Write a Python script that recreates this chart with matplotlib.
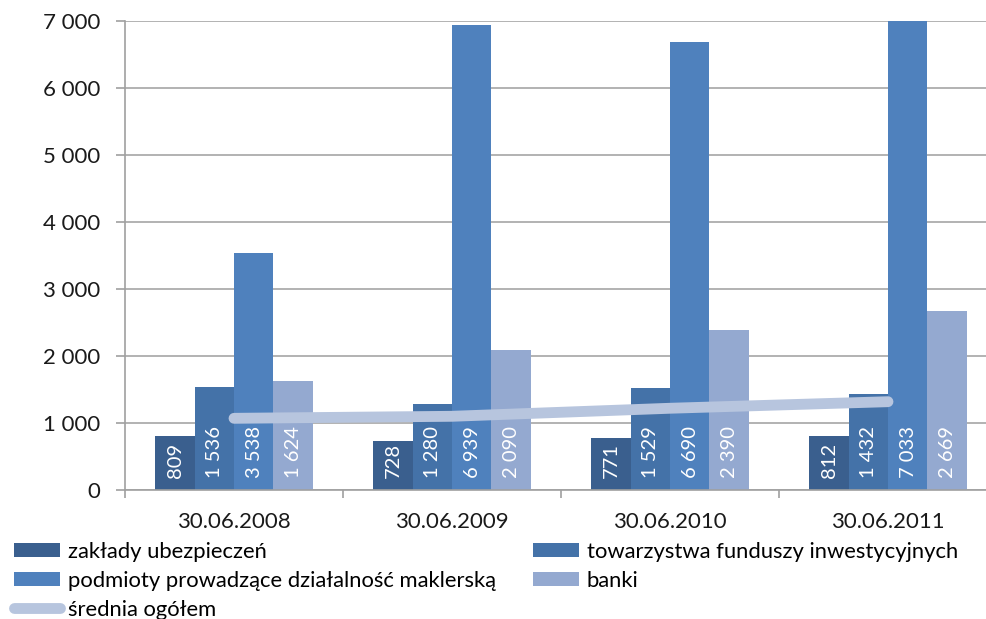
import matplotlib
matplotlib.use("Agg")
import matplotlib.pyplot as plt
import numpy as np
from matplotlib.ticker import FuncFormatter, FixedLocator
from matplotlib.patches import Patch
from matplotlib.lines import Line2D

plt.rcParams['font.family'] = ['Lato', 'DejaVu Sans']

categories = ["30.06.2008", "30.06.2009", "30.06.2010", "30.06.2011"]
series_names = ["zakłady ubezpieczeń", "towarzystwa funduszy inwestycyjnych",
                "podmioty prowadzące działalność maklerską", "banki"]
zaklady = [809, 728, 771, 812]
tfi = [1536, 1280, 1529, 1432]
podmioty = [3538, 6939, 6690, 7033]
banki = [1624, 2090, 2390, 2669]
srednia = [1070, 1100, 1220, 1318]
line_name = "średnia ogółem"

colors = ["#3A5F8E", "#4472A8", "#4F81BD", "#94A9D0"]
line_color = "#B7C5DE"

def fmt(v):
    return f"{int(v):,}".replace(",", " ")

fig = plt.figure(figsize=(9.86, 6.19), dpi=100)
W, H = 986, 619
ax = fig.add_axes([125 / W, (H - 490) / H, 872 / W, 469 / H])

x = np.arange(len(categories))
w = 0.181
series = [zaklady, tfi, podmioty, banki]
for i, (vals, c) in enumerate(zip(series, colors)):
    pos = x + (i - 1.5) * w
    bars = ax.bar(pos, vals, width=w, color=c, zorder=2, linewidth=0)
    for xp, v in zip(pos, vals):
        ax.annotate(fmt(v), (xp, 0), xytext=(0.5, 9), textcoords="offset points",
                    rotation=90, ha="center", va="bottom", color="white",
                    fontsize=14.5, zorder=4)

ax.plot(x, srednia, color=line_color, linewidth=7.8, solid_capstyle="round",
        zorder=3)

ax.set_xlim(-0.5, 3.5)
ax.set_ylim(0, 7000)
ax.set_yticks(np.arange(0, 7001, 1000))
ax.yaxis.set_major_formatter(FuncFormatter(lambda v, p: fmt(v)))
ax.set_xticks(x)
ax.set_xticklabels(categories)
ax.xaxis.set_minor_locator(FixedLocator([-0.5, 0.5, 1.5, 2.5, 3.5]))
ax.tick_params(axis="x", which="major", length=0, pad=16, labelsize=16, labelcolor="#1a1a1a")
ax.tick_params(axis="x", which="minor", length=6, width=1.2, color="#A0A0A0", direction="out")
ax.tick_params(axis="y", length=6.5, width=1.2, color="#A0A0A0", pad=11, labelsize=16, labelcolor="#1a1a1a")

ax.grid(axis="y", color="#A6A6A6", linewidth=1.2, zorder=0)
ax.set_axisbelow(True)
for s in ["top", "right"]:
    ax.spines[s].set_visible(False)
for s in ["left", "bottom"]:
    ax.spines[s].set_color("#A0A0A0")
    ax.spines[s].set_linewidth(1.2)

h = [Patch(facecolor=c, edgecolor="none") for c in colors]
hl = Line2D([0], [0], color=line_color, linewidth=7.8, solid_capstyle="round")

leg_kw = dict(frameon=False, fontsize=15.8, handlelength=2.1, handleheight=0.6,
              handletextpad=0.35, labelspacing=0.4, borderpad=0, borderaxespad=0,
              loc="upper left")
fig.legend([h[0], h[2], hl], [series_names[0], series_names[2], line_name],
           bbox_to_anchor=(14 / W, 1 - 542 / H), **leg_kw)
fig.legend([h[1], h[3]], [series_names[1], series_names[3]],
           bbox_to_anchor=(533 / W, 1 - 542 / H), **leg_kw)

fig.savefig("out.png", dpi=100)
